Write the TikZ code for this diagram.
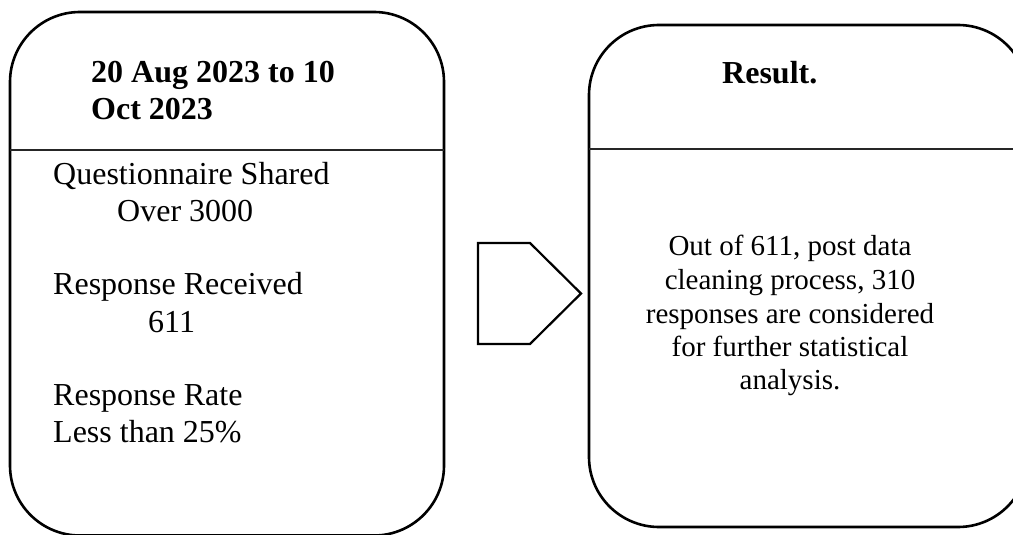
\documentclass[tikz,border=0pt]{standalone}
\usepackage{fontspec}
\setmainfont{Liberation Serif}
\begin{document}
\begin{tikzpicture}[x=1pt,y=-1pt,
  panel/.style={draw=black,line width=2.6pt,rounded corners=70pt,fill=none},
  divider/.style={draw=black!85,line width=1.4pt},
  arrowshape/.style={draw=black,line width=2.2pt,line join=miter},
  big/.style={font=\fontsize{32}{37}\selectfont,inner sep=0pt,anchor=base west},
  bighead/.style={font=\fontsize{32}{37}\selectfont\bfseries,inner sep=0pt,anchor=base west},
  small/.style={font=\fontsize{29}{33.5}\selectfont,inner sep=0pt,anchor=base}]
\useasboundingbox (0,0) rectangle (1013,535);
\begin{scope}
\clip (0,0) rectangle (1013,535);
% left panel: collection period and figures
\draw[panel] (10,12) rectangle (444,535.5);
\coordinate (l1) at (10,150);
\coordinate (l2) at (444,150);
\draw[divider] (l1) -- (l2);
% right panel: result; its right side runs past the edge of the page
\coordinate (rtr) at (1028,25);
\coordinate (rtl) at (589,25);
\coordinate (rbl) at (589,527);
\coordinate (rbr) at (1028,527);
\draw[panel] (1028,276) -- (rtr) -- (rtl) -- (rbl) -- (rbr) -- (1028,276);
\coordinate (r1) at (589,149);
\coordinate (r2) at (1013,149);
\draw[divider] (r1) -- (r2);
\end{scope}
% pointer between the panels
\coordinate (a1) at (478,243);
\coordinate (a2) at (530,243);
\coordinate (a3) at (581,293.5);
\coordinate (a4) at (530,344);
\coordinate (a5) at (478,344);
\draw[arrowshape] (a1) -- (a2) -- (a3) -- (a4) -- (a5) -- cycle;
% left panel text
\node[bighead] (h1) at (91,83) {20 Aug 2023 to 10};
\node[bighead] (h2) at (91,120) {Oct 2023};
\node[big] (t1) at (53,184) {Questionnaire Shared};
\node[big] (t2) at (117,221) {Over 3000};
\node[big] (t3) at (53,294) {Response Received};
\node[big] (t4) at (148,332) {611};
\node[big] (t5) at (53,405) {Response Rate};
\node[big] (t6) at (53,442) {Less than 25\%};
% right panel text
\node[bighead] (rh) at (722,84) {Result.};
\node[small] (s1) at (790,255) {Out of 611, post data};
\node[small] (s2) at (790,289) {cleaning process, 310};
\node[small] (s3) at (790,323) {responses are considered};
\node[small] (s4) at (790,356) {for further statistical};
\node[small] (s5) at (790,389) {analysis.};
\end{tikzpicture}
\end{document}
